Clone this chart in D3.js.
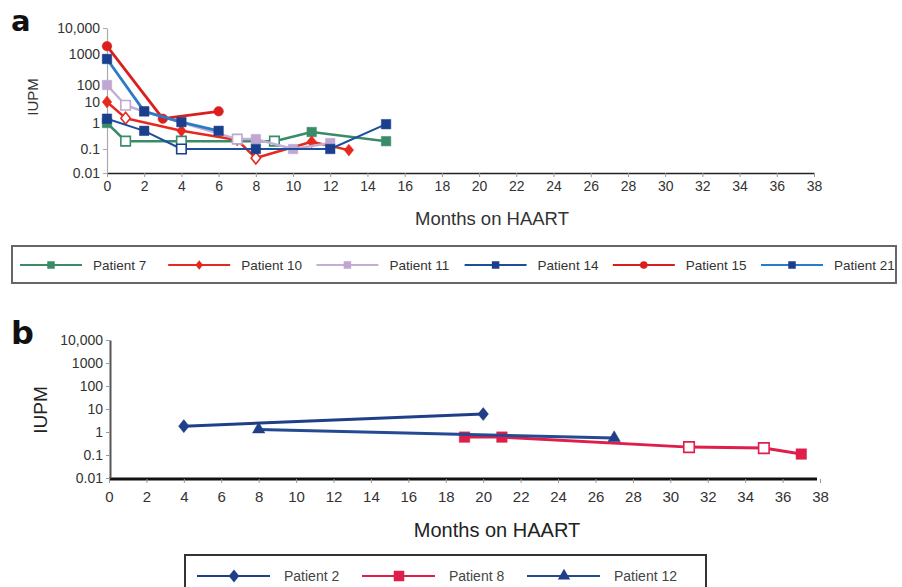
<!DOCTYPE html>
<html>
<head>
<meta charset="utf-8">
<script src="https://cdn.jsdelivr.net/npm/d3@7"></script>
<style>
  body { margin: 0; background: #fff; }
  svg { display: block; font-family: "Liberation Sans", Arial, sans-serif; }
  .tick text { fill: #333; }
</style>
</head>
<body>
<svg id="chart" width="902" height="587"></svg>
<script>
// ---- data ----
// panel a
const p7Months = [0, 1, 4, 9, 11, 15];
const p7Iupm   = [1, 0.2, 0.2, 0.2, 0.45, 0.2];
const p7Open   = [0, 1, 1, 1, 0, 0];

const p10Months = [0, 1, 4, 7, 8, 11, 13];
const p10Iupm   = [10, 1.7, 0.5, 0.22, 0.042, 0.19, 0.09];
const p10Open   = [0, 1, 0, 0, 1, 0, 0];

const p11Months = [0, 1, 2, 7, 8, 10, 12];
const p11Iupm   = [100, 7, 3.5, 0.24, 0.24, 0.1, 0.17];
const p11Open   = [0, 1, 0, 1, 0, 0, 0];

const p14Months = [0, 2, 4, 8, 12, 15];
const p14Iupm   = [1.6, 0.5, 0.1, 0.1, 0.1, 0.9];
const p14Open   = [0, 0, 1, 0, 0, 0];

const p15Months = [0, 3, 6];
const p15Iupm   = [2000, 1.6, 3.6];
const p15Open   = [0, 0, 0];

const p21Months = [0, 2, 4, 6];
const p21Iupm   = [690, 3.6, 1.1, 0.5];
const p21Open   = [0, 0, 0, 0];

// panel b
const p2Months = [4, 20];
const p2Iupm   = [1.8, 6];
const p2Open   = [0, 0];

const p8Months = [19, 21, 31, 35, 37];
const p8Iupm   = [0.6, 0.6, 0.22, 0.2, 0.11];
const p8Open   = [0, 0, 1, 1, 0];

const p12Months = [8, 27];
const p12Iupm   = [1.3, 0.55];
const p12Open   = [0, 0];

const monthTicks = d3.range(0, 39, 2);
const iupmTicks = [0.01, 0.1, 1, 10, 100, 1000, 10000];
const iupmLabels = ["0.01", "0.1", "1", "10", "100", "1000", "10,000"];

function pts(months, vals, open) {
  return months.map((m, i) => ({m: m, v: vals[i], open: !!open[i]}));
}

var seriesA = [
  {name: "Patient 7",  pts: pts(p7Months, p7Iupm, p7Open),    line: "#3a8c68", mark: "#3a8c68", shape: "square",  w: 2.5},
  {name: "Patient 10", pts: pts(p10Months, p10Iupm, p10Open), line: "#e6281f", mark: "#e6281f", shape: "diamond", w: 2.5},
  {name: "Patient 11", pts: pts(p11Months, p11Iupm, p11Open), line: "#c4aed4", mark: "#c0a6d2", shape: "square",  w: 2.5},
  {name: "Patient 14", pts: pts(p14Months, p14Iupm, p14Open), line: "#1e4f9e", mark: "#1b3f8c", shape: "square",  w: 2},
  {name: "Patient 15", pts: pts(p15Months, p15Iupm, p15Open), line: "#da1f1f", mark: "#da1f1f", shape: "circle",  w: 2.8},
  {name: "Patient 21", pts: pts(p21Months, p21Iupm, p21Open), line: "#2a7cc4", mark: "#1b3f8c", shape: "square",  w: 2.8}
];
var seriesB = [
  {name: "Patient 2",  pts: pts(p2Months, p2Iupm, p2Open),    line: "#1f3f88", mark: "#1f3f88", shape: "diamond",  w: 3},
  {name: "Patient 8",  pts: pts(p8Months, p8Iupm, p8Open),    line: "#e01e4c", mark: "#e01e4c", shape: "square",   w: 3},
  {name: "Patient 12", pts: pts(p12Months, p12Iupm, p12Open), line: "#244b92", mark: "#1f3f88", shape: "triangle", w: 3}
];

var svg = d3.select("#chart");

// symbol paths
function symbolPath(shape, size) {
  if (shape === "diamond") {
    var h = size * 0.62, w = size * 0.5;
    return `M0,${-h}L${w},0L0,${h}L${-w},0Z`;
  }
  var type = {square: d3.symbolSquare, circle: d3.symbolCircle, triangle: d3.symbolTriangle}[shape];
  return d3.symbol().type(type).size(size * size * (shape === "circle" ? 0.8 : shape === "triangle" ? 0.6 : 1))();
}

function drawSeries(g, series, x, y, msize) {
  var line = d3.line().x(d => x(d.m)).y(d => y(d.v));
  series.forEach(function(s) {
    var sg = g.append("g");
    sg.append("path")
      .attr("d", line(s.pts))
      .attr("fill", "none")
      .attr("stroke", s.line)
      .attr("stroke-width", s.w)
      .attr("stroke-linejoin", "round");
    sg.selectAll("path.mk")
      .data(s.pts)
      .enter().append("path")
      .attr("class", "mk")
      .attr("transform", d => `translate(${x(d.m)},${y(d.v)})`)
      .attr("d", symbolPath(s.shape, msize))
      .attr("fill", d => d.open ? "#fff" : s.mark)
      .attr("stroke", s.mark)
      .attr("stroke-width", d => d.open ? 1.6 : 0.5);
  });
}

// ---------------- panel a ----------------
var xA = d3.scaleLinear().domain([0, 38]).range([107, 814]);
// the printed axis is not evenly spaced per decade: piecewise scale over log10
var yAlin = d3.scaleLinear().domain([-2, -1, 0, 1, 2, 3, 4]).range([173, 149, 123, 102, 85, 54, 28]);
var yA = v => yAlin(Math.log10(v));

var gA = svg.append("g");

gA.append("g")
  .attr("transform", "translate(0,173)")
  .call(d3.axisBottom(xA).tickValues(monthTicks).tickSize(4).tickPadding(4).tickSizeOuter(0))
  .call(g => g.select(".domain").attr("stroke", "#222").attr("stroke-width", 1.5))
  .call(g => g.selectAll(".tick line").attr("stroke", "#999"))
  .call(g => g.selectAll(".tick text").attr("font-size", 14).attr("font-family", "Liberation Sans, Arial"));

gA.append("g")
  .attr("transform", "translate(107,0)")
  .call(d3.axisLeft(yAlin).tickValues(iupmTicks.map(Math.log10)).tickFormat((d, i) => iupmLabels[i]).tickSize(4).tickPadding(3).tickSizeOuter(0))
  .call(g => g.select(".domain").attr("stroke", "#aaa").attr("stroke-width", 1.2))
  .call(g => g.selectAll(".tick line").attr("stroke", "#aaa"))
  .call(g => g.selectAll(".tick text").attr("font-size", 14).attr("font-family", "Liberation Sans, Arial"));

drawSeries(gA.append("g"), seriesA, xA, yA, 9.5);

gA.append("text")
  .attr("x", 492).attr("y", 225)
  .attr("text-anchor", "middle")
  .attr("font-size", 18.5).attr("fill", "#333")
  .text("Months on HAART");

gA.append("text")
  .attr("transform", "translate(38,97) rotate(-90)")
  .attr("text-anchor", "middle")
  .attr("font-size", 15).attr("fill", "#333")
  .text("IUPM");

gA.append("text")
  .attr("x", 11).attr("y", 31)
  .attr("font-size", 29).attr("font-weight", "bold").attr("fill", "#111")
  .attr("font-family", "DejaVu Sans, sans-serif")
  .text("a");

// legend a
var legA = gA.append("g");
legA.append("rect")
  .attr("x", 12).attr("y", 246).attr("width", 884).attr("height", 37)
  .attr("fill", "#fff").attr("stroke", "#666").attr("stroke-width", 2);
var legAx = d3.scalePoint().domain(seriesA.map(s => s.name)).range([51, 792]);
seriesA.forEach(function(s) {
  var cx = legAx(s.name);
  var it = legA.append("g").attr("transform", `translate(${cx},265)`);
  it.append("line").attr("x1", -31).attr("x2", 31)
    .attr("stroke", s.line).attr("stroke-width", 2);
  it.append("path").attr("d", symbolPath(s.shape, 7.5)).attr("fill", s.mark);
  it.append("text").attr("x", 42).attr("y", 5)
    .attr("font-size", 13.5).attr("fill", "#333")
    .text(s.name);
});

// ---------------- panel b ----------------
var xB = d3.scaleLinear().domain([0, 38]).range([109, 820]);
var yB = d3.scaleLog().domain([0.01, 10000]).range([478, 340]);

var gB = svg.append("g");

gB.append("g")
  .attr("transform", "translate(0,479)")
  .call(d3.axisBottom(xB).tickValues(monthTicks).tickSize(4).tickPadding(8).tickSizeOuter(0))
  .call(g => g.select(".domain").attr("stroke", "#111").attr("stroke-width", 3).attr("d", "M109,0H817"))
  .call(g => g.selectAll(".tick line").attr("stroke", "#999"))
  .call(g => g.selectAll(".tick text").attr("font-size", 15)
    .attr("font-family", "Liberation Sans Narrow, Liberation Sans, Arial"));

gB.append("g")
  .attr("transform", "translate(110,0)")
  .call(d3.axisLeft(yB).tickValues(iupmTicks).tickFormat((d, i) => iupmLabels[i]).tickSize(4).tickPadding(3).tickSizeOuter(0))
  .call(g => g.select(".domain").attr("stroke", "#555").attr("stroke-width", 2))
  .call(g => g.selectAll(".tick line").attr("stroke", "#999"))
  .call(g => g.selectAll(".tick text").attr("font-size", 14)
    .attr("font-family", "Liberation Sans Narrow, Liberation Sans, Arial"));

drawSeries(gB.append("g"), seriesB, xB, yB, 10.5);

gB.append("text")
  .attr("x", 497).attr("y", 537)
  .attr("text-anchor", "middle")
  .attr("font-size", 20).attr("fill", "#222")
  .attr("font-family", "Liberation Sans Narrow, Liberation Sans, Arial")
  .text("Months on HAART");

gB.append("text")
  .attr("transform", "translate(47,410) rotate(-90)")
  .attr("text-anchor", "middle")
  .attr("font-size", 19).attr("fill", "#222")
  .text("IUPM");

gB.append("text")
  .attr("x", 11).attr("y", 344)
  .attr("font-size", 32).attr("font-weight", "bold").attr("fill", "#111")
  .attr("font-family", "DejaVu Sans, sans-serif")
  .text("b");

// legend b
var legB = gB.append("g");
legB.append("rect")
  .attr("x", 185).attr("y", 555).attr("width", 521).attr("height", 45)
  .attr("fill", "#fff").attr("stroke", "#333").attr("stroke-width", 2);
var legBx = d3.scalePoint().domain(seriesB.map(s => s.name)).range([234, 564]);
seriesB.forEach(function(s) {
  var cx = legBx(s.name);
  var it = legB.append("g").attr("transform", `translate(${cx},576)`);
  it.append("line").attr("x1", -37).attr("x2", 36)
    .attr("stroke", s.line).attr("stroke-width", 2);
  it.append("path").attr("d", symbolPath(s.shape, 10.5)).attr("fill", s.mark);
  it.append("text").attr("x", 50).attr("y", 5)
    .attr("font-size", 14).attr("fill", "#444")
    .attr("font-family", "Liberation Sans Narrow, Liberation Sans, Arial")
    .text(s.name);
});
</script>
</body>
</html>
